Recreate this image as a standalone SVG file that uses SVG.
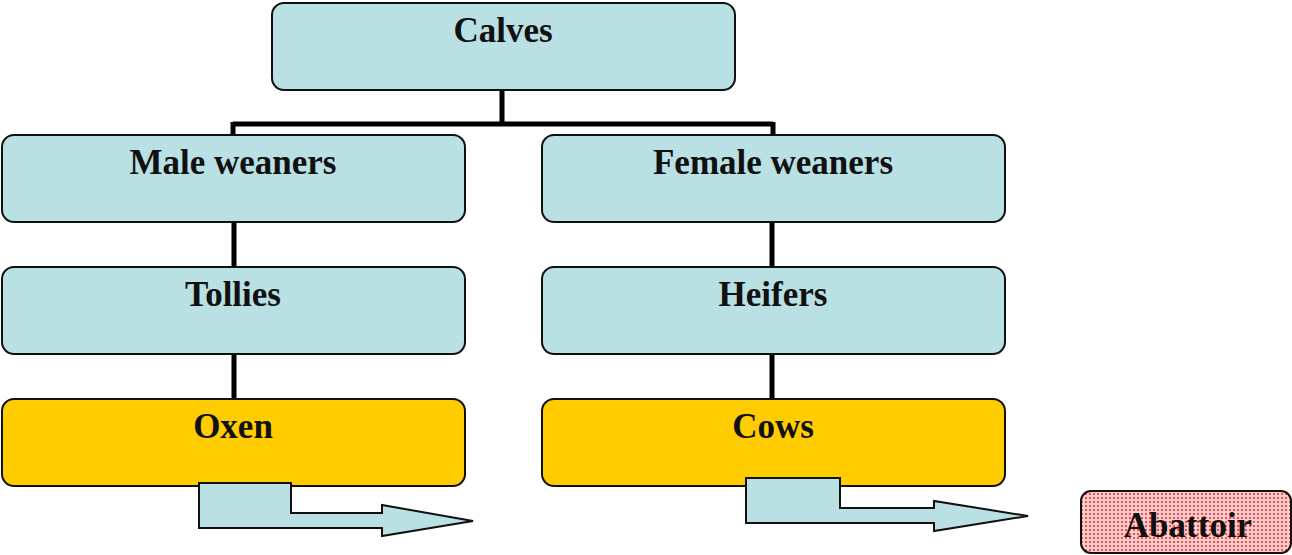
<svg xmlns="http://www.w3.org/2000/svg" width="1292" height="555" viewBox="0 0 1292 555">
<style>
.box{fill:#b9e0e3;stroke:#111;stroke-width:2}
.gold{fill:#ffcc00;stroke:#111;stroke-width:2}
.lbl{font-family:"Liberation Serif",serif;font-weight:bold;font-size:35px;fill:#111;text-anchor:middle}
.conn{stroke:#000;stroke-width:5;fill:none}
.arr{fill:#b9e0e3;stroke:#111;stroke-width:2;stroke-linejoin:miter}
</style>
<defs>
<pattern id="dots" width="4" height="4" patternUnits="userSpaceOnUse">
<rect width="4" height="4" fill="#ffd0d0"/>
<circle cx="2" cy="2" r="1.1" fill="#ff2a2a"/>
</pattern>
</defs>
<g id="connectors">
<path class="conn" d="M502,90 V124 M233,124 H773 M233,122 V135 M773,122 V135"/>
<path class="conn" d="M234,222 V267 M234,354 V399"/>
<path class="conn" d="M772,222 V267 M772,354 V399"/>
</g>
<g id="calves"><rect class="box" x="272" y="3" width="463" height="87" rx="12"/><text class="lbl" x="503" y="42">Calves</text></g>
<g id="male-weaners"><rect class="box" x="2" y="135" width="463" height="87" rx="12"/><text class="lbl" x="233" y="174">Male weaners</text></g>
<g id="female-weaners"><rect class="box" x="542" y="135" width="463" height="87" rx="12"/><text class="lbl" x="773" y="174">Female weaners</text></g>
<g id="tollies"><rect class="box" x="2" y="267" width="463" height="87" rx="12"/><text class="lbl" x="233" y="306">Tollies</text></g>
<g id="heifers"><rect class="box" x="542" y="267" width="463" height="87" rx="12"/><text class="lbl" x="773" y="306">Heifers</text></g>
<g id="oxen"><rect class="gold" x="2" y="399" width="463" height="87" rx="12"/><text class="lbl" x="233" y="438">Oxen</text></g>
<g id="cows"><rect class="gold" x="542" y="399" width="463" height="87" rx="12"/><text class="lbl" x="773" y="438">Cows</text></g>
<g id="arrow-oxen"><path class="arr" d="M199,483 L291,483 L291,513 L382,513 L382,505 L473,521 L382,536 L382,528 L199,528 Z"/></g>
<g id="arrow-cows"><path class="arr" d="M746,478 L840,478 L840,508 L934,508 L934,501 L1028,516 L934,531 L934,523 L746,523 Z"/></g>
<g id="abattoir"><rect x="1081" y="491" width="210" height="62" rx="10" fill="url(#dots)" stroke="#111" stroke-width="2"/><text class="lbl" x="1188" y="537">Abattoir</text></g>
</svg>
